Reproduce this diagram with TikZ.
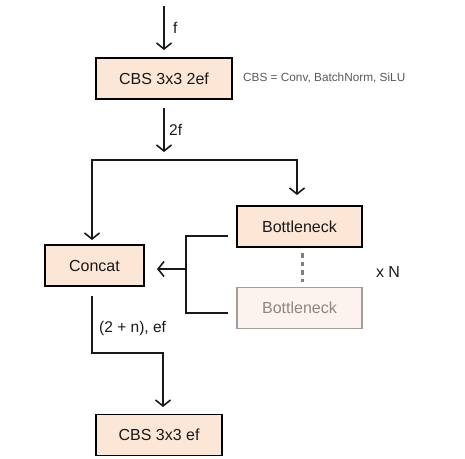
\documentclass[tikz,border=0pt]{standalone}
\usepackage{fontspec}
\setmainfont{Liberation Sans}
\usetikzlibrary{arrows.meta}
\definecolor{peach}{HTML}{FCE6D6}
\definecolor{paleach}{HTML}{FDF3EE}
\definecolor{fadeline}{HTML}{A29E9B}
\definecolor{fadetext}{HTML}{8C8783}
\tikzset{
  x=1pt,y=-1pt,
  blk/.style={draw=black,line width=1.3pt,fill=peach,minimum height=41pt,inner sep=0pt,font=\fontsize{16}{18}\selectfont,text=black!90},
  fadeblk/.style={blk,draw=fadeline,fill=paleach,text=fadetext},
  conn/.style={line width=1.6pt,draw=black!90},
  arr/.style={conn,-{Straight Barb[length=6pt,width=15pt,line width=1.6pt]}},
  lbl/.style={font=\fontsize{15.5}{18}\selectfont,text=black!90,inner sep=0pt,anchor=west}
}
\begin{document}
\begin{tikzpicture}
\useasboundingbox (0,0) rectangle (465,458);
\node[blk,minimum width=136pt] (cbs1) at (164,78.5) {CBS 3x3 2ef};
\node[font=\fontsize{11.8}{14}\selectfont,text=black!65,anchor=west,inner sep=0pt] (note) at (243,78) {CBS = Conv, BatchNorm, SiLU};
\node[blk,minimum width=125pt] (bn1) at (299.5,226.5) {Bottleneck};
\node[fadeblk,minimum width=125pt] (bn2) at (299.5,308) {Bottleneck};
\node[blk,minimum width=99pt] (concat) at (94.5,265.5) {Concat};
\node[blk,minimum width=126pt] (cbs2) at (159,435) {CBS 3x3 ef};
\node[font=\fontsize{16}{18}\selectfont,text=black!90] (xn) at (388,272) {x N};

\coordinate (in) at (164,6);
\coordinate (inend) at (164,50);
\draw[arr] (in) -- (inend);
\node[lbl] (lf) at (173,28) {f};
\coordinate (a2) at (164,108);
\coordinate (a2end) at (164,152);
\draw[arr] (a2) -- (a2end);
\node[lbl] (l2f) at (169,130) {2f};
\draw[conn] (92,160) -- (297,160);
\draw[arr] (92,159.2) -- (92,240);
\draw[arr] (297,159.2) -- (297,195);
% dotted
\draw[line width=3pt,draw=black!50,dash pattern=on 4.5pt off 4pt] (302,253) -- (302,282);
% bracket
\coordinate (bt) at (228,236);
\coordinate (bb) at (228,313);
\draw[conn] (bt) -- (186,236) -- (186,313) -- (bb);
\draw[arr] (186,269) -- (157,269);
% bottom
\draw[conn] (92,296) -- (92,353) -- (163,353);
\draw[arr] (163,352.2) -- (163,407);
\node[lbl] (lbl3) at (99,328) {(2 + n), ef};
\end{tikzpicture}
\end{document}
